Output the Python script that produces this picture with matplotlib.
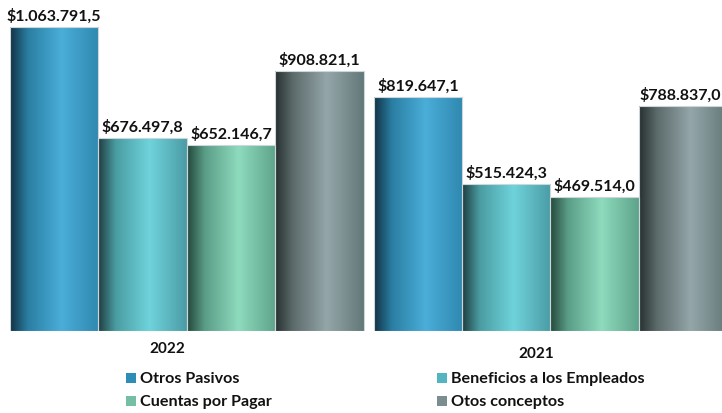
import numpy as np
import matplotlib
matplotlib.use("Agg")
import matplotlib.pyplot as plt
from matplotlib.colors import LinearSegmentedColormap
from matplotlib.patches import Rectangle

plt.rcParams["font.family"] = ["Lato", "DejaVu Sans"]

years = ["2022", "2021"]
series = ["Otros Pasivos", "Beneficios a los Empleados", "Cuentas por Pagar", "Otos conceptos"]
values_2022 = [1063791.5, 676497.8, 652146.7, 908821.1]
values_2021 = [819647.1, 515424.3, 469514.0, 788837.0]
labels_2022 = ["$1.063.791,5", "$676.497,8", "$652.146,7", "$908.821,1"]
labels_2021 = ["$819.647,1", "$515.424,3", "$469.514,0", "$788.837,0"]

# gradient stops: left edge, dark side, highlight, right edge
gradients = [
    ["#123244", "#2a7ea2", "#4aaed9", "#2f88af"],
    ["#1f3d40", "#4a9da2", "#6fd3dc", "#4a9ca5"],
    ["#23473b", "#5a9d87", "#8edbbe", "#5ea38a"],
    ["#263030", "#5c6a6a", "#94a6a9", "#637878"],
]
legend_colors = ["#2e8db7", "#52b5c0", "#74bea6", "#7b8d8f"]

W, H = 722, 414
fig = plt.figure(figsize=(W / 100, H / 100), dpi=100)
px_per_m = 285.8  # pixels per 1,000,000
base_y = 332
ax = fig.add_axes([10 / W, (H - base_y) / H, 712 / W, base_y / H])
ax.set_ylim(0, base_y / px_per_m * 1e6)
bar_px = 88.4
gap = 10 / bar_px
ax.set_xlim(0, 712 / bar_px)
ax.axis("off")

grad = np.linspace(0, 1, 256).reshape(1, -1)
value_texts = []
for g, (vals, labs) in enumerate([(values_2022, labels_2022), (values_2021, labels_2021)]):
    x0 = g * (4 + gap)
    for i, (v, lab) in enumerate(zip(vals, labs)):
        left = x0 + i
        cmap = LinearSegmentedColormap.from_list(
            "b%d" % i, list(zip([0.0, 0.2, 0.58, 1.0], gradients[i])))
        rect = Rectangle((left, 0), 1, v, facecolor="none",
                         edgecolor="#cdd6da", linewidth=0.8, zorder=3)
        ax.add_patch(rect)
        im = ax.imshow(grad, cmap=cmap, aspect="auto",
                       extent=(left, left + 1, 0, v), zorder=2)
        im.set_clip_path(rect)
        t = ax.text(left + 0.5, v + 14000, lab, ha="center", va="bottom",
                    fontsize=11.5, fontweight="bold", color="#111111", clip_on=False)
        value_texts.append(t)

# keep labels of the clipped last bar inside the picture
fig.canvas.draw()
renderer = fig.canvas.get_renderer()
for t in value_texts:
    bb = t.get_window_extent(renderer)
    over = bb.x1 - (W - 1)
    if over > 0:
        x, y = t.get_position()
        t.set_position((x - over / bar_px, y))

fig.text(167 / W, 1 - 349 / H, years[0], ha="center", va="center",
         fontsize=11, fontweight="bold", color="#111111")
fig.text(536 / W, 1 - 354 / H, years[1], ha="center", va="center",
         fontsize=11, fontweight="bold", color="#111111")

# legend laid out in two columns
leg_pos = [(126, 379), (437, 379), (126, 402), (437, 402)]
for (lx, ly), name, col in zip(leg_pos, series, legend_colors):
    fig.patches.append(Rectangle((lx / W, 1 - (ly + 5) / H), 10 / W, 10 / H,
                                 transform=fig.transFigure, facecolor=col,
                                 edgecolor="none"))
    fig.text((lx + 14) / W, 1 - ly / H, name, ha="left", va="center",
             fontsize=11.6, fontweight="bold", color="#111111")

fig.savefig("out.png", dpi=100)
